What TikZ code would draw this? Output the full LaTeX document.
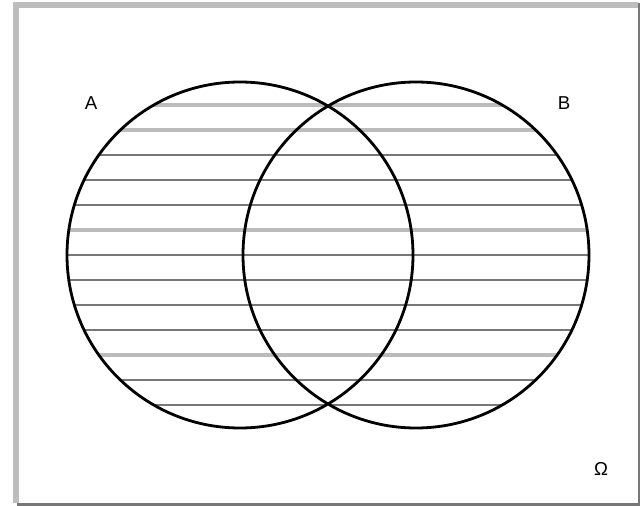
\documentclass[tikz,border=0pt]{standalone}
\usepackage{fontspec}
\setmainfont{Liberation Sans}
\definecolor{hatchdark}{HTML}{777777}
\definecolor{hatchlite}{HTML}{BBBBBB}
\definecolor{framelite}{HTML}{BDBDBD}
\definecolor{framedark}{HTML}{777777}
\begin{document}
\begin{tikzpicture}[x=0.75pt,y=-0.75pt,
  hatchd/.style={draw=hatchdark,line width=2pt},
  hatchl/.style={draw=hatchlite,line width=3pt},
  setcircle/.style={draw=black,line width=2.1pt},
  lbl/.style={font=\fontsize{14}{16}\selectfont,inner sep=0pt}]
\useasboundingbox (0,0) rectangle (640,506);
\fill[white] (0,0) rectangle (640,506);
% frame
\fill[framelite] (13,2) rectangle (638,8);
\fill[framelite] (13,2) rectangle (19,503);
\fill[framedark] (17,503) rectangle (640,506);
\fill[framedark] (638,3) rectangle (640,506);
% centres
\coordinate (ca) at (240,255);
\coordinate (cb) at (416,255);
% hatching
\begin{scope}
  \clip (ca) circle[radius=173] (cb) circle[radius=173];
  \foreach \y in {105,130,230,355}
    \draw[hatchl] (50,\y) -- (610,\y);
  \foreach \y in {155,180,205,255,280,305,330,380,405}
    \draw[hatchd] (50,\y) -- (610,\y);
\end{scope}
% circles
\draw[setcircle] (ca) circle[radius=173];
\draw[setcircle] (cb) circle[radius=173];
% labels
\node[lbl] (la) at (91,103) {A};
\node[lbl] (lb) at (564,103) {B};
\node[lbl] (lo) at (601,469) {Ω};
\end{tikzpicture}
\end{document}
